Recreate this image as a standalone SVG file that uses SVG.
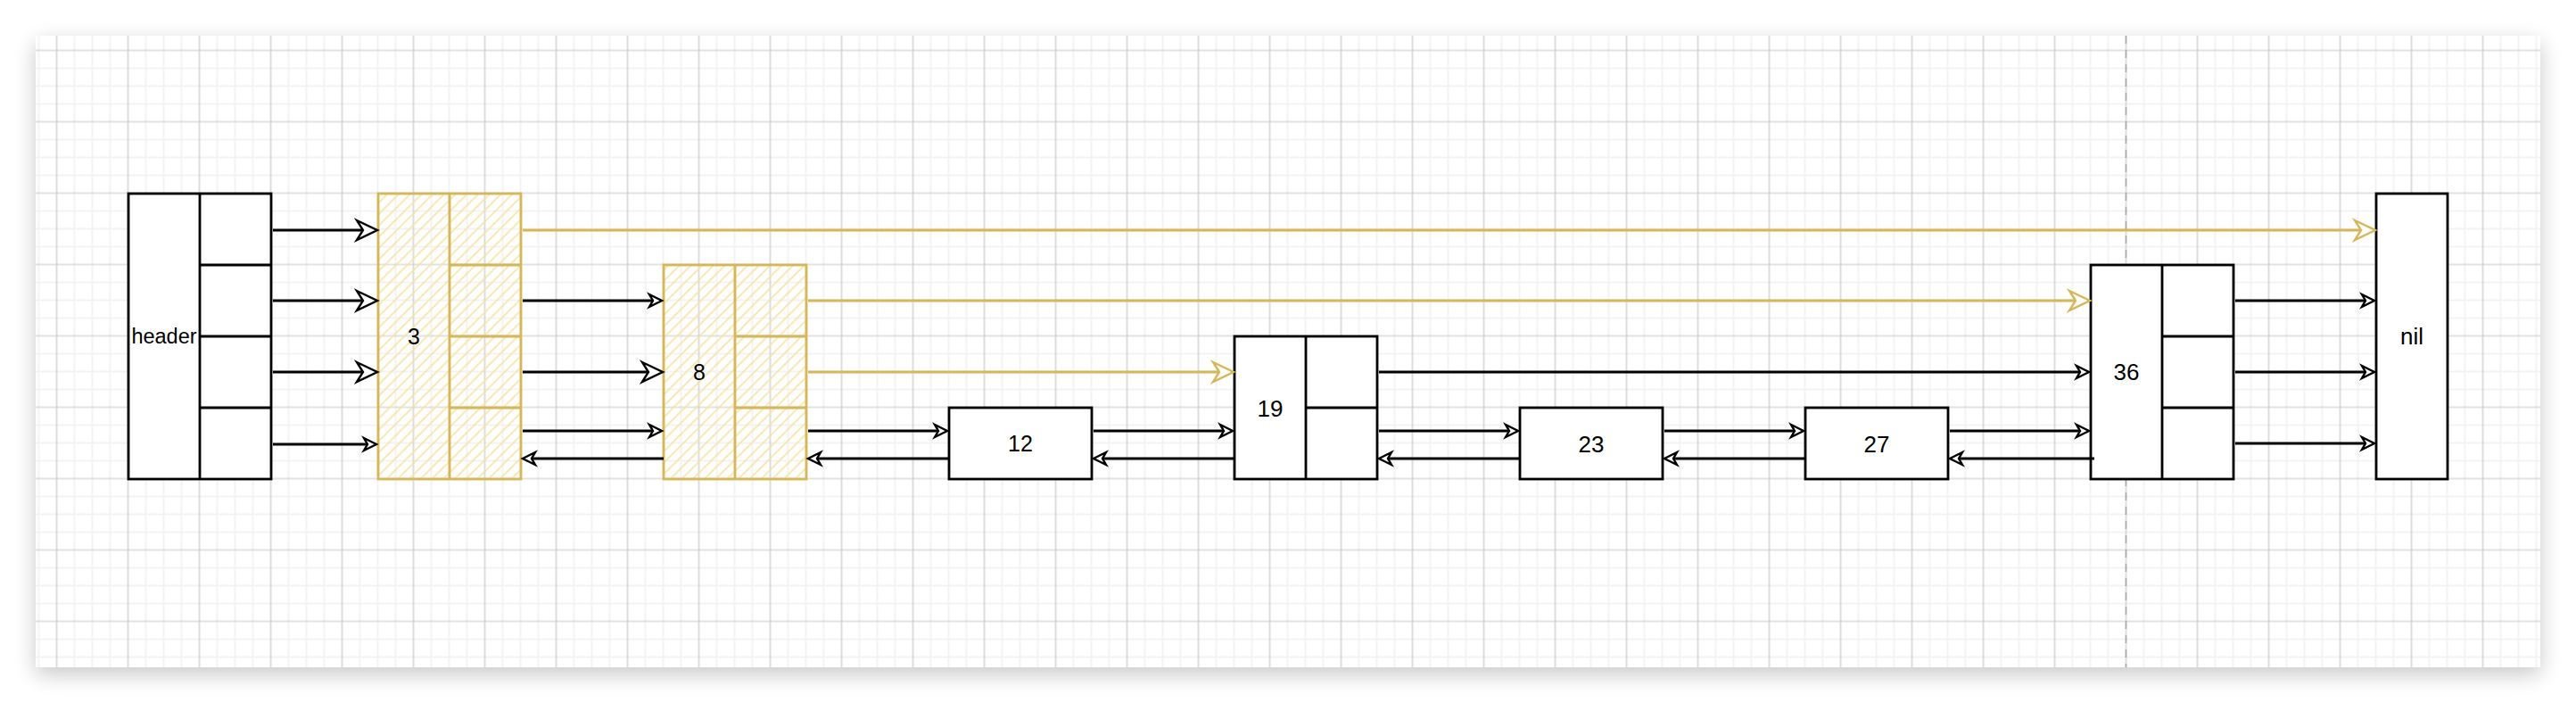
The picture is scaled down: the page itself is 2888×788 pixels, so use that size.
<svg xmlns="http://www.w3.org/2000/svg" width="2888" height="788" viewBox="0 0 2888 788">
  <defs>
    <style>
      .box { fill: #ffffff; stroke: #000000; stroke-width: 2.8; }
      .ybox { fill: url(#hatch); stroke: #d6b656; stroke-width: 2.8; }
      .div { stroke: #000000; stroke-width: 2.8; fill: none; }
      .ydiv { stroke: #d6b656; stroke-width: 2.8; fill: none; }
      .lbl { font-family: "Liberation Sans", Arial, sans-serif; font-size: 26px; fill: #000000; text-anchor: middle; }
      .edge { stroke: #000000; stroke-width: 2.8; fill: none; }
      .yedge { stroke: #d6b656; stroke-width: 2.8; fill: none; }
    </style>
    <filter id="shadow" x="-5%" y="-10%" width="110%" height="125%">
      <feGaussianBlur in="SourceAlpha" stdDeviation="12"/>
      <feOffset dx="0" dy="8" result="b"/>
      <feComponentTransfer><feFuncA type="linear" slope="0.22"/></feComponentTransfer>
      <feMerge><feMergeNode/><feMergeNode in="SourceGraphic"/></feMerge>
    </filter>
    <pattern id="grid" x="13.5" y="6.5" width="80" height="80" patternUnits="userSpaceOnUse">
      <path d="M10,0 V80 M30,0 V80 M70,0 V80 M0,10 H80 M0,30 H80 M0,70 H80" stroke="#f3f3f3" stroke-width="2" fill="none"/>
      <path d="M50,0 V80 M0,50 H80" stroke="#c6c6c6" stroke-width="1.2" fill="none"/>
    </pattern>
    <pattern id="hatch" width="9" height="9" patternUnits="userSpaceOnUse" patternTransform="rotate(45)">
      <line x1="2" y1="-1" x2="2" y2="10" stroke="#f8e3a0" stroke-width="1.6"/>
    </pattern>
    <marker id="ab" markerUnits="userSpaceOnUse" markerWidth="30" markerHeight="30" viewBox="-4 -15 30 30" refX="20" refY="0" orient="auto" overflow="visible">
      <path d="M0,-11 L23,0 L0,11 L7,0 Z" fill="#ffffff" stroke="#000000" stroke-width="2.4" stroke-linejoin="miter"/>
    </marker>
    <marker id="as" markerUnits="userSpaceOnUse" markerWidth="20" markerHeight="20" viewBox="-3 -10 20 20" refX="12" refY="0" orient="auto" overflow="visible">
      <path d="M0,-7 L14,0 L0,7 L4,0 Z" fill="#ffffff" stroke="#000000" stroke-width="2.4" stroke-linejoin="miter"/>
    </marker>
    <marker id="yb" markerUnits="userSpaceOnUse" markerWidth="30" markerHeight="30" viewBox="-4 -15 30 30" refX="20" refY="0" orient="auto" overflow="visible">
      <path d="M0,-11 L23,0 L0,11 L7,0 Z" fill="#ffffff" stroke="#d6b656" stroke-width="2.4" stroke-linejoin="miter"/>
    </marker>
  </defs>

  <rect x="0" y="0" width="2888" height="788" fill="#ffffff"/>
  <g id="page">
    <rect x="40" y="40" width="2808" height="708" fill="#ffffff" filter="url(#shadow)"/>
    <rect x="40" y="40" width="2808" height="708" fill="url(#grid)"/>
    <line x1="2383.5" y1="40" x2="2383.5" y2="748" stroke="#a8a8a8" stroke-width="1.5" stroke-dasharray="9 7"/>
  </g>

  <g id="node-header">
    <rect class="box" x="144" y="217" width="160" height="320"/>
    <path class="div" d="M224,217 V537 M224,297 H304 M224,377 H304 M224,457 H304"/>
    <text class="lbl" x="184" y="385" style="font-size:23.5px">header</text>
  </g>
  <g id="node-3">
    <rect class="ybox" x="424" y="217" width="160" height="320"/>
    <path class="ydiv" d="M504,217 V537 M504,297 H584 M504,377 H584 M504,457 H584"/>
    <text class="lbl" x="464" y="386" style="font-size:25px">3</text>
  </g>
  <g id="node-8">
    <rect class="ybox" x="744" y="297" width="160" height="240"/>
    <path class="ydiv" d="M824,297 V537 M824,377 H904 M824,457 H904"/>
    <text class="lbl" x="784" y="426" style="font-size:25px">8</text>
  </g>
  <g id="node-12">
    <rect class="box" x="1064" y="457" width="160" height="80"/>
    <text class="lbl" x="1144" y="506" style="font-size:25px">12</text>
  </g>
  <g id="node-19">
    <rect class="box" x="1384" y="377" width="160" height="160"/>
    <path class="div" d="M1464,377 V537 M1464,457 H1544"/>
    <text class="lbl" x="1424" y="466.5">19</text>
  </g>
  <g id="node-23">
    <rect class="box" x="1704" y="457" width="160" height="80"/>
    <text class="lbl" x="1784" y="506.5">23</text>
  </g>
  <g id="node-27">
    <rect class="box" x="2024" y="457" width="160" height="80"/>
    <text class="lbl" x="2104" y="506.5">27</text>
  </g>
  <g id="node-36">
    <rect class="box" x="2344" y="297" width="160" height="240"/>
    <path class="div" d="M2424,297 V537 M2424,377 H2504 M2424,457 H2504"/>
    <text class="lbl" x="2384" y="426">36</text>
  </g>
  <g id="node-nil">
    <rect class="box" x="2664" y="217" width="80" height="320"/>
    <text class="lbl" x="2704" y="385.5">nil</text>
  </g>

  <g id="connectors">
    <path class="edge" d="M306,258 H420" marker-end="url(#ab)"/>
    <path class="edge" d="M306,337 H420" marker-end="url(#ab)"/>
    <path class="edge" d="M306,417 H420" marker-end="url(#ab)"/>
    <path class="edge" d="M306,498 H420" marker-end="url(#as)"/>

    <path class="yedge" d="M586,258 H2660" marker-end="url(#yb)"/>
    <path class="edge" d="M586,337 H740" marker-end="url(#as)"/>
    <path class="edge" d="M586,417 H740" marker-end="url(#ab)"/>
    <path class="edge" d="M586,483 H740" marker-end="url(#as)"/>
    <path class="edge" d="M744,514 H588" marker-end="url(#as)"/>

    <path class="yedge" d="M906,337 H2340" marker-end="url(#yb)"/>
    <path class="yedge" d="M906,417 H1380" marker-end="url(#yb)"/>
    <path class="edge" d="M906,483 H1060" marker-end="url(#as)"/>
    <path class="edge" d="M1064,514 H908" marker-end="url(#as)"/>

    <path class="edge" d="M1226,483 H1380" marker-end="url(#as)"/>
    <path class="edge" d="M1384,514 H1228" marker-end="url(#as)"/>

    <path class="edge" d="M1546,417 H2340" marker-end="url(#as)"/>
    <path class="edge" d="M1546,483 H1700" marker-end="url(#as)"/>
    <path class="edge" d="M1704,514 H1548" marker-end="url(#as)"/>

    <path class="edge" d="M1866,483 H2020" marker-end="url(#as)"/>
    <path class="edge" d="M2024,514 H1868" marker-end="url(#as)"/>

    <path class="edge" d="M2186,483 H2340" marker-end="url(#as)"/>
    <path class="edge" d="M2348,514 H2188" marker-end="url(#as)"/>

    <path class="edge" d="M2506,337 H2660" marker-end="url(#as)"/>
    <path class="edge" d="M2506,417 H2660" marker-end="url(#as)"/>
    <path class="edge" d="M2506,497 H2660" marker-end="url(#as)"/>
  </g>
</svg>
